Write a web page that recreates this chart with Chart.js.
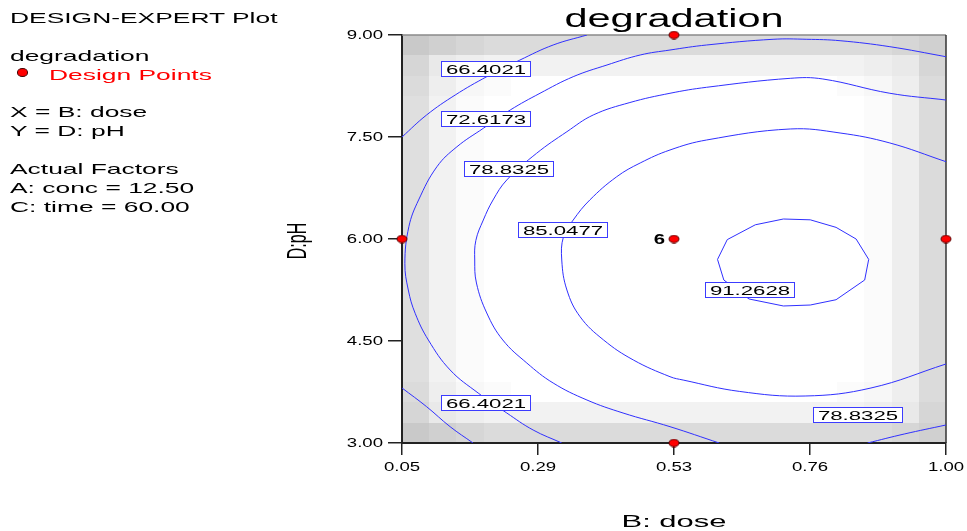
<!DOCTYPE html>
<html>
<head>
<meta charset="utf-8">
<script src="https://cdn.jsdelivr.net/npm/chart.js@4.4.1/dist/chart.umd.min.js"></script>
<style>
  html, body { margin: 0; padding: 0; background: #fff; }
  #wrap { position: relative; width: 967px; height: 531px; overflow: hidden; }
  #c { position: absolute; left: 0; top: 0; }
  .side { position: absolute; left: 10px; font: 15px "Liberation Sans", Arial, sans-serif; line-height: 17px;
          white-space: nowrap; transform: scaleX(1.76); transform-origin: 0 0; color: #000; }
  .red { color: #ff0000; }
  #dot { position: absolute; left: 17px; top: 68px; width: 9px; height: 6.5px; border-radius: 50%;
         background: #ff0000; border: 1px solid #400; }
</style>
</head>
<body>
<div id="wrap">
  <canvas id="c" width="967" height="531"></canvas>
  <div class="side" style="top:9px">DESIGN-EXPERT Plot</div>
  <div class="side" style="top:47px">degradation</div>
  <div id="dot"></div>
  <div class="side red" style="top:66px;left:49px">Design Points</div>
  <div class="side" style="top:103px">X = B: dose</div>
  <div class="side" style="top:122px">Y = D: pH</div>
  <div class="side" style="top:160px">Actual Factors</div>
  <div class="side" style="top:179px">A: conc = 12.50</div>
  <div class="side" style="top:198px">C: time = 60.00</div>
</div>
<script>
// axis ticks
const xTickValues = [0.05, 0.2875, 0.525, 0.7625, 1.0];
const xTickLabels = ['0.05', '0.29', '0.53', '0.76', '1.00'];
const yTickValues = [3, 4.5, 6, 7.5, 9];
const yTickLabels = ['3.00', '4.50', '6.00', '7.50', '9.00'];

// design points (B: dose, D: pH)
const designX = [0.525, 0.05, 0.525, 1.0, 0.525];
const designY = [9, 6, 6, 6, 3];
const replicateLabels = [{ x: 0.525, y: 6, text: '6' }];

// contour lines, [dose, pH]
const c66Top = [[0.05,7.50],[0.093,7.824],[0.143,8.118],[0.198,8.387],[0.256,8.632],[0.314,8.853],[0.373,9.00]];
const c66Bottom = [[0.05,3.809],[0.093,3.534],[0.134,3.240],[0.174,3.00]];
const c72 = [[1.00,8.681],[0.902,8.828],[0.815,8.916],[0.757,8.937],[0.698,8.937],[0.582,8.853],[0.518,8.779],
  [0.466,8.706],[0.408,8.559],[0.349,8.387],[0.291,8.143],[0.239,7.897],[0.192,7.628],[0.146,7.357],[0.111,7.063],
  [0.079,6.574],[0.062,6.181],[0.055,5.643],[0.061,5.25],[0.073,4.907],[0.096,4.515],[0.134,4.074],[0.183,3.735],
  [0.233,3.441],[0.279,3.191],[0.329,3.00]];
const c78Main = [[1.00,8.044],[0.902,8.143],[0.785,8.353],[0.728,8.363],[0.582,8.231],[0.518,8.143],[0.448,8.007],
  [0.384,7.824],[0.338,7.578],[0.285,7.26],[0.233,6.868],[0.209,6.574],[0.192,6.279],[0.179,5.98],[0.177,5.691],
  [0.180,5.353],[0.198,4.912],[0.226,4.515],[0.268,4.176],[0.314,3.882],[0.373,3.632],[0.436,3.441],[0.518,3.24],[0.604,3.00]];
const c78Right = [[0.863,3.00],[0.927,3.132],[1.00,3.265]];
const c85 = [[1.00,7.137],[0.902,7.412],[0.815,7.559],[0.728,7.618],[0.582,7.456],[0.518,7.309],[0.466,7.118],
  [0.425,6.916],[0.378,6.574],[0.349,6.279],[0.332,6.034],[0.329,5.691],[0.338,5.25],[0.361,4.857],[0.402,4.515],
  [0.454,4.221],[0.518,3.975],[0.541,3.926],[0.639,3.759],[0.754,3.691],[0.869,3.809],[1.00,4.162]];
const c91 = [[0.618,5.991],[0.667,6.209],[0.716,6.294],[0.763,6.282],[0.808,6.171],[0.843,6.0],[0.865,5.70],
  [0.858,5.397],[0.808,5.107],[0.763,5.029],[0.716,5.015],[0.656,5.118],[0.612,5.397],[0.601,5.70],[0.618,5.991]];

// contour value labels
const contourLabels = [
  { text: '66.4021', x: 0.196, y: 8.507 },
  { text: '72.6173', x: 0.196, y: 7.762 },
  { text: '78.8325', x: 0.236, y: 7.027 },
  { text: '85.0477', x: 0.332, y: 6.132 },
  { text: '66.4021', x: 0.196, y: 3.588 },
  { text: '91.2628', x: 0.657, y: 5.246 },
  { text: '78.8325', x: 0.847, y: 3.412 }
];

// background shading grid (top row first), hex index into shadePalette
const shadePalette = ['#ffffff','#fbfbfb','#f7f7f7','#f2f2f2','#eeeeee','#e9e9e9','#e4e4e4','#dfdfdf','#dbdbdb','#d6d6d6','#d0d0d0','#c9c9c9'];
const shadeRows = [
  'ba98888888888888889ab',
  '95433333333333333459',
  '84210000000000001248',
  '73100000000000000148',
  '73100000000000000148',
  '73100000000000000148',
  '73100000000000000148',
  '73100000000000000148',
  '73100000000000000148',
  '73100000000000000148',
  '73100000000000000148',
  '73100000000000000148',
  '73100000000000000148',
  '73100000000000000148',
  '73100000000000000148',
  '73100000000000000148',
  '73100000000000000148',
  '84210000000000001248',
  '95433333333333333459',
  'ba98888888888888889ab'
];

const FONT = '"Liberation Sans", Arial, sans-serif';

function stretchText(ctx, text, x, y, size, sx, align, weight) {
  ctx.save();
  ctx.font = (weight || '') + ' ' + size + 'px ' + FONT;
  ctx.textAlign = align;
  ctx.textBaseline = 'alphabetic';
  ctx.fillStyle = '#000';
  ctx.translate(x, y);
  ctx.scale(sx, 1);
  ctx.fillText(text, 0, 0);
  ctx.restore();
}

function makeDot(w, h) {
  const c = document.createElement('canvas');
  c.width = w + 2; c.height = h + 2;
  const g = c.getContext('2d');
  g.beginPath();
  g.ellipse(c.width / 2, c.height / 2, w / 2, h / 2, 0, 0, Math.PI * 2);
  g.fillStyle = '#ff0000';
  g.fill();
  g.strokeStyle = '#500';
  g.lineWidth = 1;
  g.stroke();
  return c;
}

const toPts = arr => arr.map(p => ({ x: p[0], y: p[1] }));

const contourStyle = { showLine: true, pointRadius: 0, borderColor: '#3030ff', borderWidth: 1, fill: false, tension: 0.4, order: 2 };

const shadePlugin = {
  id: 'shade',
  beforeDraw(chart) {
    const { ctx } = chart;
    const x = chart.scales.x, y = chart.scales.y;
    const rows = shadeRows.length, cols = 20;
    const dx = (x.max - x.min) / cols, dy = (y.max - y.min) / rows;
    for (let r = 0; r < rows; r++) {
      for (let c = 0; c < cols; c++) {
        const x0 = Math.round(x.getPixelForValue(x.min + c * dx));
        const x1 = Math.round(x.getPixelForValue(x.min + (c + 1) * dx));
        const y0 = Math.round(y.getPixelForValue(y.max - r * dy));
        const y1 = Math.round(y.getPixelForValue(y.max - (r + 1) * dy));
        ctx.fillStyle = shadePalette[parseInt(shadeRows[r][c], 16)];
        ctx.fillRect(x0, y0, x1 - x0, y1 - y0);
      }
    }
  },
  beforeDatasetsDraw(chart) {
    const { ctx, chartArea: a } = chart;
    ctx.save();
    ctx.lineWidth = 1.5;
    ctx.strokeStyle = '#8a8a8a';
    ctx.beginPath(); ctx.moveTo(a.left, a.top); ctx.lineTo(a.right, a.top); ctx.stroke();
    ctx.strokeStyle = '#333';
    ctx.beginPath(); ctx.moveTo(a.right, a.top); ctx.lineTo(a.right, a.bottom); ctx.stroke();
    ctx.restore();
  },
  afterDatasetsDraw(chart) {
    const { ctx } = chart;
    const x = chart.scales.x, y = chart.scales.y;
    contourLabels.forEach(l => {
      const px = Math.round(x.getPixelForValue(l.x)), py = Math.round(y.getPixelForValue(l.y));
      ctx.save();
      ctx.fillStyle = '#fff';
      ctx.fillRect(px - 44, py - 7, 89, 15);
      ctx.strokeStyle = '#3c3cff';
      ctx.lineWidth = 1;
      ctx.strokeRect(px - 44.5, py - 7.5, 89, 15);
      ctx.restore();
      stretchText(ctx, l.text, px, py + 5, 12, 1.85, 'center');
    });
    replicateLabels.forEach(l => {
      const px = x.getPixelForValue(l.x), py = y.getPixelForValue(l.y);
      stretchText(ctx, l.text, px - 9, py + 5, 14, 1.45, 'right', 'bold');
    });
  },
  afterDraw(chart) {
    const { ctx, chartArea: a } = chart;
    const x = chart.scales.x, y = chart.scales.y;
    const cx = (a.left + a.right) / 2;
    stretchText(ctx, 'degradation', cx, 27, 25, 1.66, 'center');
    xTickValues.forEach((v, i) => stretchText(ctx, xTickLabels[i], x.getPixelForValue(v), 471, 12, 1.55, 'center'));
    yTickValues.forEach((v, i) => stretchText(ctx, yTickLabels[i], 383, y.getPixelForValue(v) + 4, 12, 1.55, 'right'));
    stretchText(ctx, 'B: dose', cx, 527, 17, 1.82, 'center');
    // rotated y title
    ctx.save();
    ctx.font = '16px ' + FONT;
    ctx.textAlign = 'center';
    ctx.textBaseline = 'alphabetic';
    ctx.fillStyle = '#000';
    ctx.translate(306, (a.top + a.bottom) / 2 + 2);
    ctx.scale(1.7, 1);
    ctx.rotate(-Math.PI / 2);
    ctx.fillText('D:pH', 0, 0);
    ctx.restore();
  }
};

new Chart(document.getElementById('c').getContext('2d'), {
  type: 'scatter',
  data: {
    datasets: [
      { label: 'Design Points', data: designX.map((v, i) => ({ x: v, y: designY[i] })),
        pointStyle: makeDot(10, 7.5), pointRadius: 5, clip: false, order: 0 },
      Object.assign({ data: toPts(c66Top) }, contourStyle),
      Object.assign({ data: toPts(c66Bottom) }, contourStyle),
      Object.assign({ data: toPts(c72) }, contourStyle),
      Object.assign({ data: toPts(c78Main) }, contourStyle),
      Object.assign({ data: toPts(c78Right) }, contourStyle),
      Object.assign({ data: toPts(c85) }, contourStyle),
      Object.assign({ data: toPts(c91) }, contourStyle, { tension: 0 })
    ]
  },
  options: {
    responsive: false,
    animation: false,
    events: [],
    layout: { padding: { left: 0, right: 21, top: 35, bottom: 0 } },
    plugins: { legend: { display: false }, tooltip: { enabled: false }, title: { display: false } },
    scales: {
      x: {
        type: 'linear', min: 0.05, max: 1.0,
        afterFit: s => { s.height = 88; },
        afterBuildTicks: s => { s.ticks = xTickValues.map(v => ({ value: v })); },
        ticks: { display: false },
        grid: { drawOnChartArea: false, drawTicks: true, tickLength: 12, color: '#222', lineWidth: 1.5 },
        border: { display: true, color: '#222', width: 2 }
      },
      y: {
        type: 'linear', min: 3, max: 9,
        afterFit: s => { s.width = 402; },
        afterBuildTicks: s => { s.ticks = yTickValues.map(v => ({ value: v })); },
        ticks: { display: false },
        grid: { drawOnChartArea: false, drawTicks: true, tickLength: 14, color: '#222', lineWidth: 1.5 },
        border: { display: true, color: '#222', width: 2 }
      }
    }
  },
  plugins: [shadePlugin]
});
</script>
</body>
</html>
